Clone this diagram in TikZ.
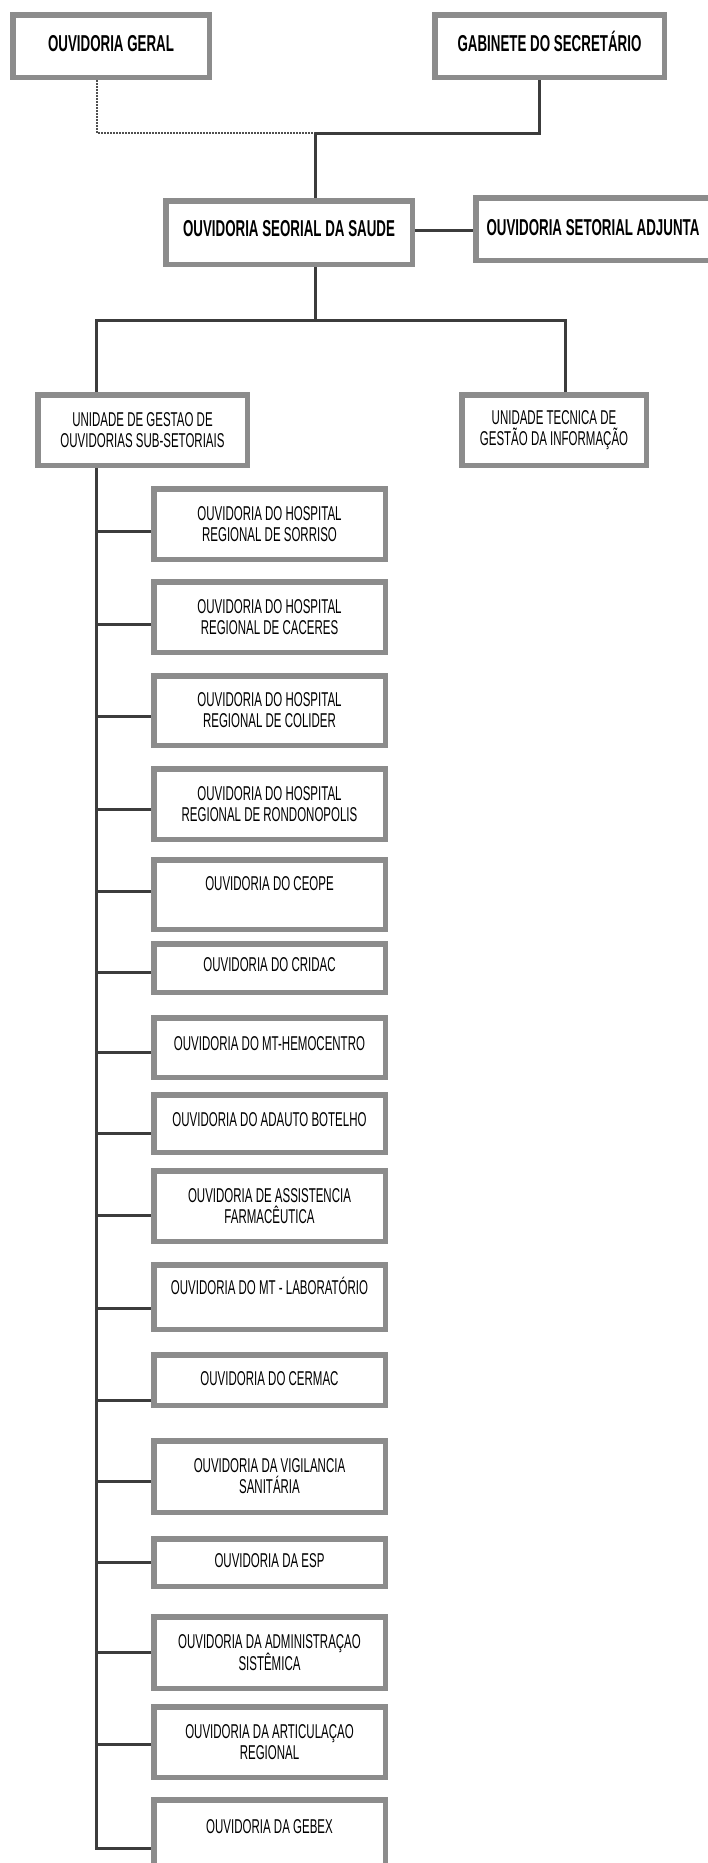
\documentclass[tikz,border=0pt]{standalone}
\usepackage{fontspec}
\newfontfamily\orgfont[FakeStretch=0.575]{Liberation Sans}
\newfontfamily\orgbold[FakeStretch=0.58]{Liberation Sans Bold}
\usetikzlibrary{backgrounds}
\definecolor{boxgray}{HTML}{8C8C8C}
\definecolor{linkgray}{HTML}{3C3C3C}
\definecolor{dotgray}{HTML}{505050}
\tikzset{
  every picture/.style={line join=miter},
  orgbox/.style={draw=boxgray, line width=5.5pt, fill=white, inner sep=0pt, minimum width=231.5pt, align=center, font=\orgfont\fontsize{20}{21}\selectfont},
  topbox/.style={orgbox, font=\orgbold\fontsize{23}{24}\selectfont, text height=16.5pt, text depth=#1},
  lift/.style={text height=14.3pt, text depth=#1},
  link/.style={draw=linkgray, line width=3pt},
  dotlink/.style={draw=dotgray, line width=2pt, dash pattern=on 1.5pt off 1.5pt},
}

\begin{document}
\begin{tikzpicture}[x=1pt,y=-1pt]
\useasboundingbox (0,0) rectangle (707,1863);
\node[topbox=6pt,minimum width=196.5pt,minimum height=62.5pt] (geral) at (111,46) {OUVIDORIA GERAL};
\node[topbox=6pt,minimum width=229.5pt,minimum height=62.5pt] (gab) at (549.5,46) {GABINETE DO SECRETÁRIO};
\node[topbox=9pt,minimum width=246.5pt,minimum height=63.5pt] (saude) at (289,232.5) {OUVIDORIA SEORIAL DA SAUDE};
\node[topbox=4pt,minimum width=234.5pt,minimum height=62.5pt] (adj) at (593,229) {OUVIDORIA SETORIAL ADJUNTA};
\node[orgbox,minimum width=209.5pt,minimum height=70.5pt] (gestao) at (142.5,430) {UNIDADE DE GESTAO DE\\OUVIDORIAS SUB-SETORIAIS};
\node[orgbox,minimum width=184.5pt,minimum height=70.5pt] (tecnica) at (554,430) {UNIDADE TECNICA DE\\GESTÃO DA INFORMAÇÃO};
\node[orgbox,minimum height=70.5pt] (s1) at (269.5,524) {OUVIDORIA DO HOSPITAL\\REGIONAL DE SORRISO};
\node[orgbox,minimum height=70.5pt] (s2) at (269.5,617) {OUVIDORIA DO HOSPITAL\\REGIONAL DE CACERES};
\node[orgbox,minimum height=69.5pt] (s3) at (269.5,710.5) {OUVIDORIA DO HOSPITAL\\REGIONAL DE COLIDER};
\node[orgbox,minimum height=70.5pt] (s4) at (269.5,804) {OUVIDORIA DO HOSPITAL\\REGIONAL DE RONDONOPOLIS};
\node[orgbox,lift=23pt,minimum height=69.5pt] (s5) at (269.5,894.5) {OUVIDORIA DO CEOPE};
\node[orgbox,lift=8pt,minimum height=48.5pt] (s6) at (269.5,968) {OUVIDORIA DO CRIDAC};
\node[orgbox,lift=9pt,minimum height=59.5pt] (s7) at (269.5,1047.5) {OUVIDORIA DO MT-HEMOCENTRO};
\node[orgbox,lift=9pt,minimum height=57.5pt] (s8) at (269.5,1123.5) {OUVIDORIA DO ADAUTO BOTELHO};
\node[orgbox,minimum height=70.5pt] (s9) at (269.5,1206) {OUVIDORIA DE ASSISTENCIA\\FARMACÊUTICA};
\node[orgbox,lift=20pt,minimum height=64.5pt] (s10) at (269.5,1297) {OUVIDORIA DO MT - LABORATÓRIO};
\node[orgbox,lift=4pt,minimum height=50.5pt] (s11) at (269.5,1380) {OUVIDORIA DO CERMAC};
\node[orgbox,minimum height=71.5pt] (s12) at (269.5,1476.5) {OUVIDORIA DA VIGILANCIA\\SANITÁRIA};
\node[orgbox,lift=5pt,minimum height=47.5pt] (s13) at (269.5,1562.5) {OUVIDORIA DA ESP};
\node[orgbox,minimum height=71.5pt] (s14) at (269.5,1652.5) {OUVIDORIA DA ADMINISTRAÇAO\\SISTÊMICA};
\node[orgbox,minimum height=70.5pt] (s15) at (269.5,1742) {OUVIDORIA DA ARTICULAÇAO\\REGIONAL};
\node[orgbox,lift=17pt,minimum height=69.5pt] (s16) at (269.5,1834.5) {OUVIDORIA DA GEBEX};
\coordinate (jtop) at (315,133);
\coordinate (jmid) at (315,320);
\coordinate (trunk) at (96,1848);
\begin{scope}[on background layer]
\draw[dotlink] ([xshift=-14pt]geral.south) |- (jtop);
\draw[link] ([xshift=-10.5pt]gab.south) |- (jtop);
\draw[link] (jtop) -- (jtop |- saude.north);
\draw[link] (saude.south -| jmid) -- (jmid);
\draw[link] ([yshift=2.5pt]saude.east) -- ([yshift=2.5pt]saude.east -| adj.west);
\draw[link] (jmid) -| ([xshift=11pt]tecnica.north);
\draw[link] (jmid) -| (gestao.north -| trunk);
\draw[link] (gestao.south -| trunk) -- (trunk) -- (trunk -| s16.west);
\draw[link] ([yshift=-7pt]s1.west) -- ([yshift=-7pt]s1.west -| trunk);
\draw[link] ([yshift=-7pt]s2.west) -- ([yshift=-7pt]s2.west -| trunk);
\draw[link] ([yshift=-5.5pt]s3.west) -- ([yshift=-5.5pt]s3.west -| trunk);
\draw[link] ([yshift=-5pt]s4.west) -- ([yshift=-5pt]s4.west -| trunk);
\draw[link] ([yshift=3.5pt]s5.west) -- ([yshift=3.5pt]s5.west -| trunk);
\draw[link] ([yshift=-4pt]s6.west) -- ([yshift=-4pt]s6.west -| trunk);
\draw[link] ([yshift=-4.5pt]s7.west) -- ([yshift=-4.5pt]s7.west -| trunk);
\draw[link] ([yshift=-9.5pt]s8.west) -- ([yshift=-9.5pt]s8.west -| trunk);
\draw[link] ([yshift=-9pt]s9.west) -- ([yshift=-9pt]s9.west -| trunk);
\draw[link] ([yshift=-11pt]s10.west) -- ([yshift=-11pt]s10.west -| trunk);
\draw[link] ([yshift=-20pt]s11.west) -- ([yshift=-20pt]s11.west -| trunk);
\draw[link] ([yshift=-4.5pt]s12.west) -- ([yshift=-4.5pt]s12.west -| trunk);
\draw[link] (s13.west) -- (s13.west -| trunk);
\draw[link] (s14.west) -- (s14.west -| trunk);
\draw[link] ([yshift=-2pt]s15.west) -- ([yshift=-2pt]s15.west -| trunk);
\end{scope}
\end{tikzpicture}
\end{document}
